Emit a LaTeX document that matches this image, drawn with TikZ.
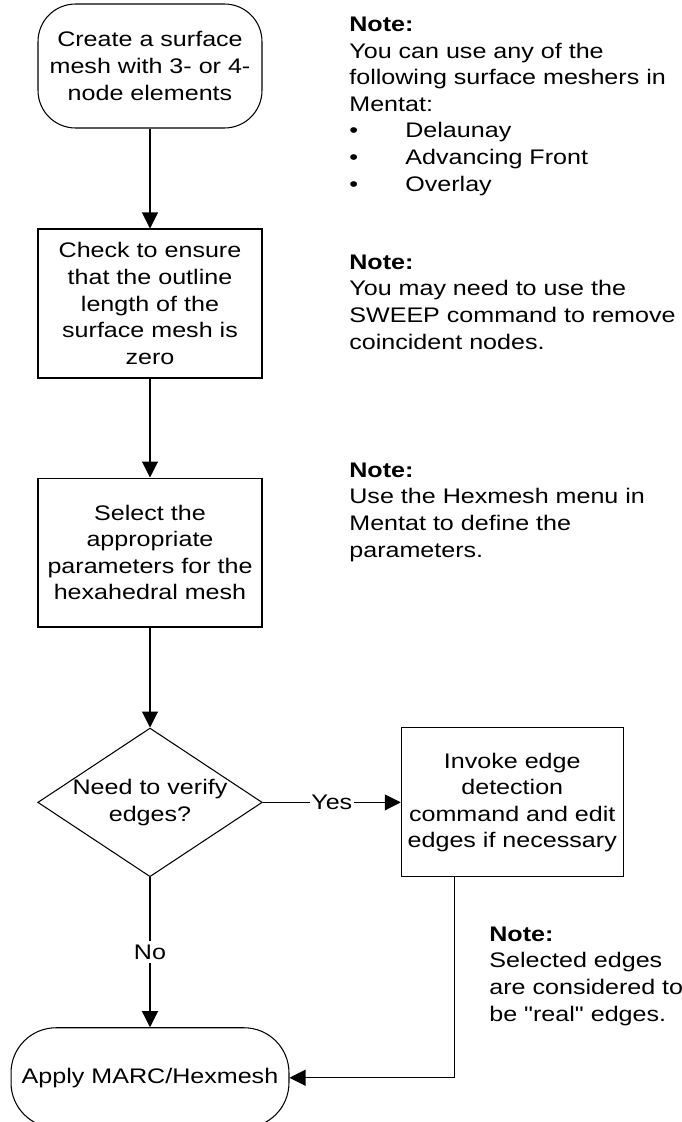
\documentclass[tikz,border=0pt]{standalone}
\usepackage{fontspec}
\setmainfont[FakeStretch=1.19, Ligatures=TeXOff]{Liberation Sans}
\usetikzlibrary{positioning,arrows.meta,shapes.geometric}

\newcommand{\bitem}[1]{\makebox[1.12cm][l]{\textbullet}#1}

\begin{document}
\begin{tikzpicture}[x=0.02cm, y=-0.02cm,
    font=\fontsize{12}{15.1}\selectfont,
    term/.style={rectangle, rounded corners=0.75cm, draw, line width=0.6pt,
        minimum width=4.48cm, minimum height=2.48cm, align=center},
    proc/.style={rectangle, draw, line width=0.6pt,
        minimum width=4.48cm, minimum height=2.98cm, align=center},
    decision/.style={diamond, draw, line width=0.6pt, aspect=1.51,
        inner sep=0pt, align=center},
    arr/.style={-{Triangle[length=0.32cm, width=0.32cm]}, line width=0.6pt},
    note/.style={anchor=base west, align=left, inner sep=0pt},
]
\useasboundingbox (0,0) rectangle (682,1122);

% main column
\node[term] (create) at (150,66) {Create a surface\\mesh with 3- or 4-\\node elements};
\node[proc, below=2cm of create] (check) {Check to ensure\\that the outline\\length of the\\surface mesh is\\zero};
\node[proc, below=1.98cm of check] (select) {Select the\\appropriate\\parameters for the\\hexahedral mesh};
\node[decision, below=2cm of select] (verify) {Need to verify\\edges?};
\node[term, rounded corners=0.9cm, minimum width=5.56cm, minimum height=2cm,
    below=3cm of verify] (apply) {Apply MARC/Hexmesh};
\node[proc, minimum width=4.44cm, right=2.76cm of verify] (invoke) {Invoke edge\\detection\\command and edit\\edges if necessary};

% notes (anchored at the baseline of their last line)
\node[note] (note1) at (349,191) {\textbf{Note:}\\You can use any of the\\following surface meshers in\\Mentat:\\\bitem{Delaunay}\\\bitem{Advancing Front}\\\bitem{Overlay}};
\node[note] (note2) at (349,349) {\textbf{Note:}\\You may need to use the\\SWEEP command to remove\\coincident nodes.};
\node[note] (note3) at (349,557) {\textbf{Note:}\\Use the Hexmesh menu in\\Mentat to define the\\parameters.};
\node[note] (note4) at (489,1021) {\textbf{Note:}\\Selected edges\\are considered to\\be "real" edges.};

\draw[arr] (create) -- (check);
\draw[arr] (check) -- (select);
\draw[arr] (select) -- (verify);
\draw[arr] (verify) -- node[fill=white, inner sep=1pt] {Yes} (invoke);
\draw[arr] (verify) -- node[fill=white, inner sep=2pt] {No} (apply);
\draw[arr] ([xshift=1.08cm]invoke.south west) |- (apply);
\end{tikzpicture}
\end{document}
